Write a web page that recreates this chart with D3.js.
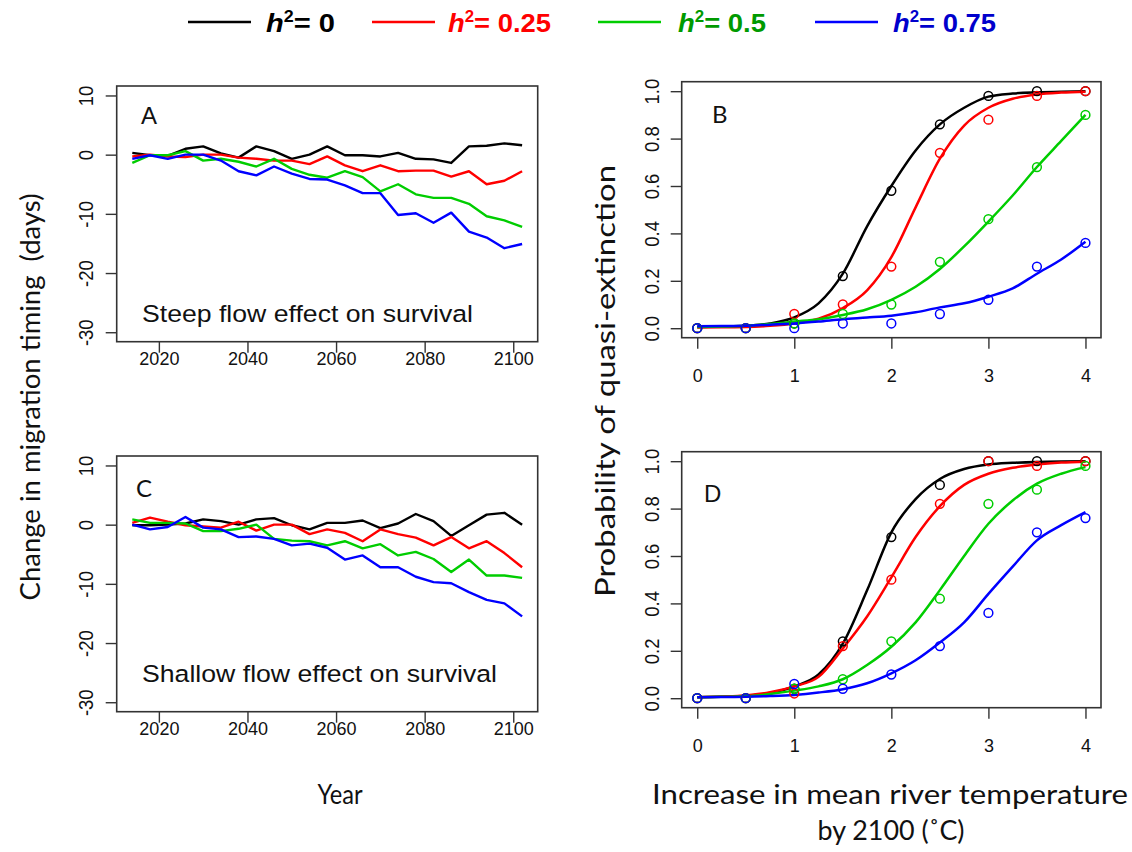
<!DOCTYPE html>
<html>
<head>
<meta charset="utf-8">
<script src="https://cdn.jsdelivr.net/npm/d3@7"></script>
<style>
  html, body { margin: 0; padding: 0; background: #fff; }
  svg { display: block; }
</style>
</head>
<body>
<svg id="chart" width="1132" height="852"></svg>
<script>
// ---------------- DATA ----------------
const seriesNames = ["h2 = 0", "h2 = 0.25", "h2 = 0.5", "h2 = 0.75"];
const legendValues = ["0", "0.25", "0.5", "0.75"];
const lineColors = ["#000000", "#ff0000", "#00cd00", "#0000ff"];
const legendTextColors = ["#000000", "#ff0000", "#009a00", "#0000cc"];

const years = [2014, 2018, 2022, 2026, 2030, 2034, 2038, 2042, 2046, 2050, 2054, 2058,
               2062, 2066, 2070, 2074, 2078, 2082, 2086, 2090, 2094, 2098, 2102];

// Panel A: steep flow effect on survival
const A_h0   = [0.3, -0.1, -0.2, 1.0, 1.4, 0.2, -0.5, 1.4, 0.6, -0.7, 0.0, 1.4, -0.1, -0.1, -0.3, 0.3, -0.7, -0.8, -1.4, 1.4, 1.5, 1.9, 1.6];
const A_h25  = [-0.3, 0.0, -0.3, -0.4, 0.0, 0.0, -0.5, -0.7, -1.0, -1.0, -1.6, -0.3, -1.8, -2.8, -1.8, -2.8, -2.7, -2.7, -3.7, -2.8, -5.0, -4.4, -2.8];
const A_h50  = [-1.4, -0.1, -0.1, 0.6, -1.0, -0.7, -1.2, -2.0, -0.7, -2.4, -3.4, -3.9, -2.8, -3.8, -6.2, -5.0, -6.7, -7.3, -7.3, -8.3, -10.4, -11.1, -12.2];
const A_h75  = [-0.7, -0.1, -0.7, 0.0, 0.0, -1.0, -2.8, -3.5, -2.0, -3.2, -4.1, -4.2, -5.2, -6.5, -6.5, -10.2, -9.9, -11.5, -9.8, -13.0, -14.0, -15.8, -15.1];

// Panel C: shallow flow effect on survival
const C_h0   = [-0.1, -0.1, 0.0, 0.2, 0.9, 0.6, 0.0, 0.9, 1.1, -0.1, -0.8, 0.3, 0.3, 0.7, -0.6, 0.2, 1.8, 0.6, -1.9, -0.1, 1.7, 2.0, 0.0];
const C_h25  = [0.3, 1.2, 0.5, -0.1, -0.3, -0.5, 0.5, -1.0, 0.0, 0.0, -1.6, -0.8, -1.4, -2.8, -0.8, -1.6, -2.2, -3.5, -2.1, -4.0, -2.8, -4.8, -7.2];
const C_h50  = [0.9, 0.3, 0.3, 0.2, -1.1, -1.1, -0.7, 0.0, -2.4, -2.7, -2.8, -3.5, -2.8, -4.0, -3.3, -5.2, -4.6, -5.8, -8.0, -5.9, -8.6, -8.6, -9.0];
const C_h75  = [0.0, -0.8, -0.4, 1.3, -0.5, -0.8, -2.1, -2.0, -2.4, -3.5, -3.2, -3.9, -5.9, -5.2, -7.2, -7.2, -8.8, -9.7, -9.9, -11.4, -12.7, -13.3, -15.5];

const yearTicks = [2020, 2040, 2060, 2080, 2100];
const timingTicks = [10, 0, -10, -20, -30];

// Panels B and D: simulated points
const tempPoints = [0, 0.5, 1, 1.5, 2, 2.5, 3, 3.5, 4];
const B_pts_h0  = [0, 0, 0.02, 0.22, 0.58, 0.86, 0.98, 1.0, 1.0];
const B_pts_h25 = [0, 0, 0.06, 0.10, 0.26, 0.74, 0.88, 0.98, 1.0];
const B_pts_h50 = [0, 0, 0.02, 0.06, 0.10, 0.28, 0.46, 0.68, 0.90];
const B_pts_h75 = [0, 0, 0, 0.02, 0.02, 0.06, 0.12, 0.26, 0.36];

const D_pts_h0  = [0, 0, 0.04, 0.24, 0.68, 0.90, 1.0, 1.0, 1.0];
const D_pts_h25 = [0, 0, 0.02, 0.22, 0.50, 0.82, 1.0, 0.98, 1.0];
const D_pts_h50 = [0, 0, 0.04, 0.08, 0.24, 0.42, 0.82, 0.88, 0.98];
const D_pts_h75 = [0, 0, 0.06, 0.04, 0.10, 0.22, 0.36, 0.70, 0.76];

// Panels B and D: fitted curves
const tempCurve = [0, 0.25, 0.5, 0.75, 1, 1.25, 1.5, 1.75, 2, 2.25, 2.5, 2.75, 3, 3.25, 3.5, 3.75, 4];
const B_fit_h0  = [0.005, 0.007, 0.01, 0.02, 0.046, 0.105, 0.23, 0.43, 0.60, 0.75, 0.86, 0.93, 0.977, 0.99, 0.995, 0.998, 1.0];
const B_fit_h25 = [0.003, 0.004, 0.005, 0.01, 0.02, 0.04, 0.085, 0.16, 0.30, 0.51, 0.715, 0.855, 0.93, 0.968, 0.986, 0.994, 0.998];
const B_fit_h50 = [0.005, 0.007, 0.01, 0.018, 0.028, 0.038, 0.056, 0.08, 0.12, 0.175, 0.25, 0.345, 0.45, 0.56, 0.68, 0.79, 0.90];
const B_fit_h75 = [0.008, 0.009, 0.01, 0.015, 0.02, 0.028, 0.038, 0.045, 0.053, 0.067, 0.088, 0.105, 0.133, 0.168, 0.23, 0.29, 0.365];

const D_fit_h0  = [0.004, 0.006, 0.01, 0.022, 0.05, 0.10, 0.23, 0.455, 0.70, 0.84, 0.925, 0.967, 0.986, 0.993, 0.997, 0.999, 1.0];
const D_fit_h25 = [0.004, 0.007, 0.012, 0.025, 0.05, 0.09, 0.21, 0.345, 0.51, 0.68, 0.81, 0.90, 0.947, 0.972, 0.986, 0.994, 0.998];
const D_fit_h50 = [0.004, 0.006, 0.008, 0.018, 0.032, 0.05, 0.08, 0.14, 0.217, 0.32, 0.456, 0.60, 0.736, 0.834, 0.905, 0.947, 0.975];
const D_fit_h75 = [0.004, 0.005, 0.006, 0.009, 0.014, 0.024, 0.038, 0.063, 0.105, 0.16, 0.235, 0.32, 0.44, 0.555, 0.666, 0.73, 0.785];

const tempTicks = [0, 1, 2, 3, 4];
const probTicks = [0, 0.2, 0.4, 0.6, 0.8, 1.0];

// ---------------- LAYOUT ----------------
const svg = d3.select("#chart");
const tickFont = "'Liberation Sans', Arial, sans-serif";
const titleFont = "Lato, 'Open Sans', sans-serif";
const perp = 1.12; // glyph stretch across rotated labels

const panels = [
  { id: "A", x0: 116.7, x1: 537.7, y0: 86,    y1: 341.7, kind: "time", series: [A_h0, A_h25, A_h50, A_h75],
    letter: "A", letterFont: tickFont, lx: 141, ly: 124, note: "Steep flow effect on survival", ny: 322, nw: 331 },
  { id: "C", x0: 116.7, x1: 537.7, y0: 456,   y1: 711.7, kind: "time", series: [C_h0, C_h25, C_h50, C_h75],
    letter: "C", letterFont: titleFont, lx: 136, ly: 497, note: "Shallow flow effect on survival", ny: 682, nw: 355 },
  { id: "B", x0: 681.7, x1: 1101,  y0: 81.7,  y1: 337.7, kind: "prob", pts: [B_pts_h0, B_pts_h25, B_pts_h50, B_pts_h75],
    fit: [B_fit_h0, B_fit_h25, B_fit_h50, B_fit_h75], letter: "B", letterFont: titleFont, lx: 712, ly: 123 },
  { id: "D", x0: 681.7, x1: 1101,  y0: 451.7, y1: 707.7, kind: "prob", pts: [D_pts_h0, D_pts_h25, D_pts_h50, D_pts_h75],
    fit: [D_fit_h0, D_fit_h25, D_fit_h50, D_fit_h75], letter: "D", letterFont: tickFont, lx: 704, ly: 502 }
];

panels.forEach(p => {
  const g = svg.append("g");
  let x, y, xt, yt, xfmt, yfmt, xLabelY, yLabelX;
  if (p.kind === "time") {
    x = d3.scaleLinear().domain([2010.48, 2105.52]).range([p.x0, p.x1]);
    y = d3.scaleLinear().domain([-31.6, 11.6]).range([p.y1, p.y0]);
    xt = yearTicks; yt = timingTicks; xfmt = d => d; yfmt = d => d;
    xLabelY = 17; yLabelX = 31;
  } else {
    x = d3.scaleLinear().domain([-0.16, 4.16]).range([p.x0, p.x1]);
    y = d3.scaleLinear().domain([-0.04, 1.04]).range([p.y1, p.y0]);
    xt = tempTicks; yt = probTicks; xfmt = d => d; yfmt = d3.format(".1f");
    xLabelY = 38; yLabelX = 29.5;
  }

  // x axis
  const xa = g.append("g").attr("transform", `translate(0,${p.y1})`)
    .call(d3.axisBottom(x).tickValues(xt).tickSize(11).tickSizeOuter(0).tickFormat(xfmt));
  xa.select(".domain").remove();
  xa.selectAll(".tick line").attr("stroke", "#333").attr("stroke-width", 1.4);
  xa.selectAll(".tick text").attr("y", xLabelY).attr("dy", "0.35em")
    .attr("font-family", tickFont).attr("font-size", 18).attr("fill", "#111");

  // y axis
  const ya = g.append("g").attr("transform", `translate(${p.x0},0)`)
    .call(d3.axisLeft(y).tickValues(yt).tickSize(11).tickSizeOuter(0).tickFormat(yfmt));
  ya.select(".domain").remove();
  ya.selectAll(".tick line").attr("stroke", "#333").attr("stroke-width", 1.4);
  ya.selectAll(".tick text")
    .attr("transform", `rotate(-90) scale(1,${perp})`)
    .attr("x", 0).attr("y", -yLabelX / perp).attr("dy", "0.35em")
    .attr("text-anchor", "middle")
    .attr("font-family", tickFont).attr("font-size", 18.5).attr("fill", "#111");

  // clip
  const clipId = "clip" + p.id;
  svg.append("clipPath").attr("id", clipId).append("rect")
    .attr("x", p.x0).attr("y", p.y0).attr("width", p.x1 - p.x0).attr("height", p.y1 - p.y0);
  const plot = g.append("g").attr("clip-path", `url(#${clipId})`);

  if (p.kind === "time") {
    const line = d3.line().x((d, i) => x(years[i])).y(d => y(d));
    p.series.forEach((s, k) => {
      plot.append("path").datum(s).attr("d", line)
        .attr("fill", "none").attr("stroke", lineColors[k]).attr("stroke-width", 2.4)
        .attr("stroke-linejoin", "round");
    });
    g.append("text").attr("x", 142).attr("y", p.ny).text(p.note)
      .attr("font-family", tickFont).attr("font-size", 24.5).attr("fill", "#111")
      .attr("textLength", p.nw).attr("lengthAdjust", "spacingAndGlyphs");
  } else {
    const line = d3.line().x((d, i) => x(tempCurve[i])).y(d => y(d)).curve(d3.curveMonotoneX);
    p.fit.forEach((s, k) => {
      plot.append("path").datum(s).attr("d", line)
        .attr("fill", "none").attr("stroke", lineColors[k]).attr("stroke-width", 2.5);
    });
    p.pts.forEach((s, k) => {
      plot.selectAll(null).data(s).enter().append("circle")
        .attr("cx", (d, i) => x(tempPoints[i])).attr("cy", d => y(d)).attr("r", 4.4)
        .attr("fill", "none").attr("stroke", lineColors[k]).attr("stroke-width", 1.5);
    });
  }

  // box
  g.append("rect").attr("x", p.x0).attr("y", p.y0).attr("width", p.x1 - p.x0).attr("height", p.y1 - p.y0)
    .attr("fill", "none").attr("stroke", "#333").attr("stroke-width", 1.6);

  // panel letter
  g.append("text").attr("x", p.lx).attr("y", p.ly).text(p.letter)
    .attr("font-family", p.letterFont).attr("font-size", 24).attr("fill", "#111");
});

// ---------------- AXIS TITLES ----------------
function title(tx, ty, rot, txt, len) {
  const t = svg.append("text")
    .attr("transform", `translate(${tx},${ty})` + (rot ? " rotate(-90)" : ""))
    .attr("text-anchor", "middle").attr("font-family", titleFont).attr("font-size", 27).attr("fill", "#111")
    .attr("xml:space", "preserve").style("white-space", "pre")
    .text(txt);
  if (len) t.attr("textLength", len).attr("lengthAdjust", "spacingAndGlyphs");
  return t;
}
title(40, 397, true, "Change in migration timing  (days)", 407);
title(615, 381, true, "Probability of quasi-extinction", 432);
title(340, 804, false, "Year", 45);
title(890, 804, false, "Increase in mean river temperature", 476);
title(891, 840, false, "by 2100 (˚C)", 147);

// ---------------- LEGEND ----------------
const legendLineX = [188, 372, 598, 815];
const legendTextX = [266, 448, 678, 893];
const legendTextW = [69, 103, 88, 103];
const leg = svg.append("g");
legendValues.forEach((v, k) => {
  leg.append("line").attr("x1", legendLineX[k]).attr("x2", legendLineX[k] + 63).attr("y1", 22).attr("y2", 22)
    .attr("stroke", lineColors[k]).attr("stroke-width", 2.6);
  const tg = leg.append("g");
  const t = tg.append("text").attr("x", 0).attr("y", 9.5)
    .attr("font-family", tickFont).attr("font-weight", "bold").attr("font-size", 26)
    .attr("fill", legendTextColors[k]);
  t.append("tspan").attr("font-style", "italic").text("h");
  t.append("tspan").attr("font-size", 16).attr("dy", -10).text("2");
  t.append("tspan").attr("dy", 10).text("= " + v);
  const w = t.node().getBBox().width;
  const sx = legendTextW[k] / w;
  tg.attr("transform", `translate(${legendTextX[k]},22) scale(${sx},1)`);
});
</script>
</body>
</html>
